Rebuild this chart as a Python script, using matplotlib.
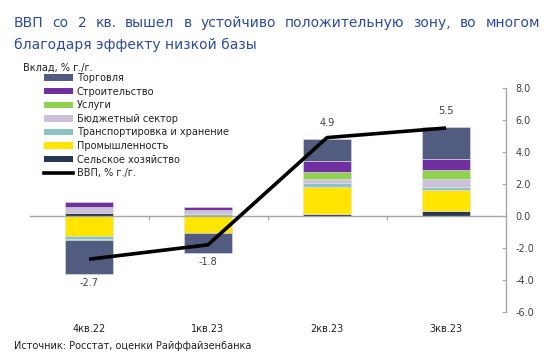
import numpy as np
import matplotlib
matplotlib.use('Agg')
import matplotlib.pyplot as plt
from matplotlib.lines import Line2D
from matplotlib.patches import Patch

quarters = ['4кв.22', '1кв.23', '2кв.23', '3кв.23']

# contributions, % y/y (stack order bottom -> top)
agri      = [0.20, 0.00, 0.12, 0.31]
industry  = [-1.23, -1.08, 1.67, 1.31]
transport = [-0.20, 0.15, 0.25, 0.19]
budget    = [0.35, 0.25, 0.27, 0.48]
services  = [-0.10, 0.00, 0.42, 0.58]
construct = [0.30, 0.18, 0.71, 0.71]
trade     = [-2.08, -1.25, 1.37, 1.96]
gdp       = [-2.7, -1.8, 4.9, 5.5]

series = [
    ('Сельское хозяйство', agri, '#263852'),
    ('Промышленность', industry, '#FFE500'),
    ('Транспортировка и хранение', transport, '#8DC3C3'),
    ('Бюджетный сектор', budget, '#CCC0DA'),
    ('Услуги', services, '#92D050'),
    ('Строительство', construct, '#7030A0'),
    ('Торговля', trade, '#525B80'),
]

TITLE_COLOR = '#2E4C9A'
TEXT = '#404040'
GRID = '#A6A6A6'

fig = plt.figure(figsize=(5.56, 3.58), dpi=100)
ax = fig.add_axes([29.5 / 556, 46 / 358, 476 / 556, 224 / 358])

x = np.arange(len(quarters))
pos_base = np.zeros(len(quarters))
neg_base = np.zeros(len(quarters))
for name, vals, color in series:
    v = np.array(vals)
    base = np.where(v >= 0, pos_base, neg_base)
    ax.bar(x, v, 0.4, bottom=base, color=color, edgecolor='#E0E0E0', linewidth=0.4, zorder=2)
    pos_base += np.clip(v, 0, None)
    neg_base += np.clip(v, None, 0)

ax.plot(x, gdp, color='black', lw=2.6, zorder=4, solid_capstyle='butt')

# data labels outside bar ends
for xi, g, top, bot in zip(x, gdp, pos_base, neg_base):
    if g >= 0:
        ax.annotate(f'{g:.1f}', (xi, top), xytext=(0, 8), textcoords='offset points',
                    ha='center', va='bottom', fontsize=7, color=TEXT)
    else:
        ax.annotate(f'{g:.1f}', (xi, bot), xytext=(0, -3), textcoords='offset points',
                    ha='center', va='top', fontsize=7, color=TEXT)

ax.set_xlim(-0.5, 3.5)
ax.set_ylim(-6, 8)

# right value axis
ax.yaxis.tick_right()
ax.set_yticks(np.arange(-6, 8.1, 2))
ax.set_yticklabels([f'{t:.1f}' for t in np.arange(-6, 8.1, 2)])
ax.tick_params(axis='y', direction='in', length=3, width=0.8, color=GRID,
               labelsize=7, labelcolor=TEXT, pad=7)
for s in ['left', 'top']:
    ax.spines[s].set_visible(False)
ax.spines['right'].set_color(GRID)
ax.spines['right'].set_linewidth(1.0)

# category axis drawn along zero
ax.spines['bottom'].set_position(('data', 0))
ax.spines['bottom'].set_color(GRID)
ax.spines['bottom'].set_linewidth(1.0)
ax.set_xticks([0.5, 1.5, 2.5])
ax.set_xticklabels([])
ax.tick_params(axis='x', direction='out', length=3, width=0.8, color=GRID)

sec = ax.secondary_xaxis(0)
sec.set_xticks(x)
sec.set_xticklabels(quarters)
sec.tick_params(length=0, pad=9, labelsize=7, labelcolor='#222222')
sec.spines['bottom'].set_visible(False)

# legend
handles = [Patch(facecolor=c, edgecolor='none') for _, _, c in series[::-1]]
labels = [n for n, _, _ in series[::-1]]
handles.append(Line2D([], [], color='black', lw=2.6))
labels.append('ВВП, % г./г.')
fig.legend(handles, labels, loc='upper left', bbox_to_anchor=(44 / 556, 1 - 73 / 358),
           frameon=False, fontsize=7, handlelength=3.0, handleheight=0.65,
           handletextpad=0.35, labelspacing=0.37, borderpad=0, borderaxespad=0,
           labelcolor='#222222')
fig.text(23 / 556, 1 - 68 / 358, 'Вклад, % г./г.', fontsize=7, color='#222222',
         ha='left', va='center')

# justified two-line title
line1 = 'ВВП со 2 кв. вышел в устойчиво положительную зону, во многом'
line2 = 'благодаря эффекту низкой базы'
renderer = fig.canvas.get_renderer()
words = line1.split()
texts = [fig.text(0, 1 - 23 / 358, w, fontsize=10, color=TITLE_COLOR, va='center')
         for w in words]
widths = [t.get_window_extent(renderer).width for t in texts]
x0, x1 = 14.0, 540.0
gap = (x1 - x0 - sum(widths)) / (len(words) - 1)
cur = x0
for t, w in zip(texts, widths):
    t.set_x(cur / 556)
    cur += w + gap
fig.text(14 / 556, 1 - 45 / 358, line2, fontsize=10, color=TITLE_COLOR, va='center')

fig.text(14 / 556, 1 - 346 / 358, 'Источник: Росстат, оценки Райффайзенбанка',
         fontsize=7, color='#222222', ha='left', va='center')

fig.savefig('out.png', dpi=100)
